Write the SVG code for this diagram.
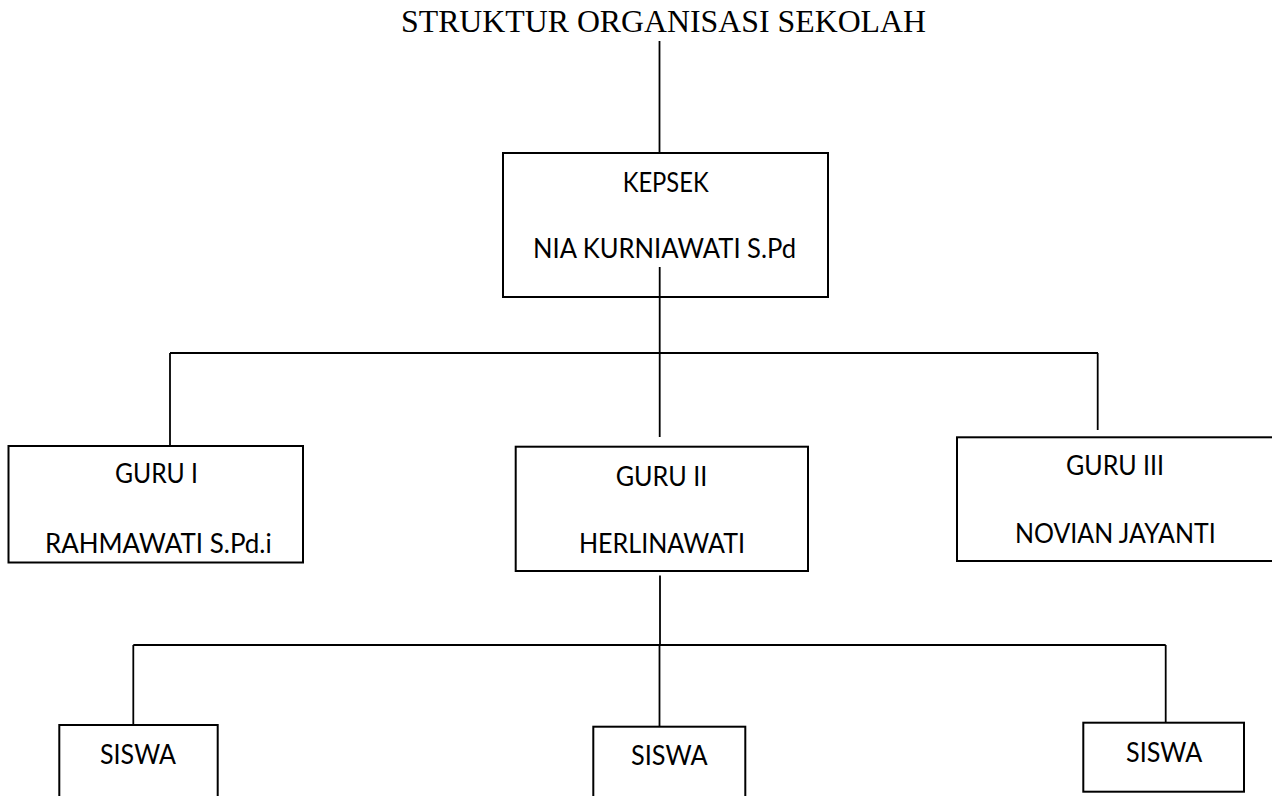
<svg xmlns="http://www.w3.org/2000/svg" width="1272" height="796" viewBox="0 0 1272 796">
<style>
.box{fill:#fff;stroke:#000;stroke-width:2}
.ln{stroke:#000;stroke-width:1.8;fill:none}
.t{font-family:Lato,"Open Sans","Liberation Sans",sans-serif;font-size:26px;fill:#000;text-anchor:middle}
.title{font-family:"Liberation Serif","Times New Roman",serif;font-size:32px;fill:#000}
</style>
<rect width="1272" height="796" fill="#fff"/>
<text class="title" x="401" y="32" textLength="525" lengthAdjust="spacingAndGlyphs">STRUKTUR ORGANISASI SEKOLAH</text>
<g id="connectors">
<line class="ln" x1="659.5" y1="41" x2="659.5" y2="153"/>
<line class="ln" x1="659.7" y1="267" x2="659.7" y2="437"/>
<line class="ln" x1="170" y1="353" x2="1098" y2="353"/>
<line class="ln" x1="170" y1="353" x2="170" y2="446"/>
<line class="ln" x1="1097.7" y1="353" x2="1097.7" y2="430"/>
<line class="ln" x1="660" y1="575.5" x2="660" y2="645"/>
<line class="ln" x1="133.3" y1="645" x2="1165.7" y2="645"/>
<line class="ln" x1="133.3" y1="645" x2="133.3" y2="725"/>
<line class="ln" x1="659.5" y1="645" x2="659.5" y2="726.7"/>
<line class="ln" x1="1165.7" y1="645" x2="1165.7" y2="722.7"/>
</g>
<g id="kepsek">
<rect class="box" x="503" y="153" width="325" height="144"/>
<line class="ln" x1="659.7" y1="267" x2="659.7" y2="297"/>
<text class="t" x="665.7" y="191.7" textLength="86" lengthAdjust="spacingAndGlyphs">KEPSEK</text>
<text class="t" x="664.5" y="258.3" textLength="263" lengthAdjust="spacingAndGlyphs">NIA KURNIAWATI S.Pd</text>
</g>
<g id="guru1">
<rect class="box" x="8.5" y="446" width="294.5" height="116.5"/>
<text class="t" x="156.5" y="483.3" textLength="83" lengthAdjust="spacingAndGlyphs">GURU I</text>
<text class="t" x="158.3" y="553.3" textLength="226.7" lengthAdjust="spacingAndGlyphs">RAHMAWATI S.Pd.i</text>
</g>
<g id="guru2">
<rect class="box" x="515.7" y="446.7" width="292.3" height="124.3"/>
<text class="t" x="661.5" y="485.7" textLength="91.6" lengthAdjust="spacingAndGlyphs">GURU II</text>
<text class="t" x="662" y="553.3" textLength="166" lengthAdjust="spacingAndGlyphs">HERLINAWATI</text>
</g>
<g id="guru3">
<rect class="box" x="957" y="437.3" width="330" height="123.7"/>
<text class="t" x="1115" y="475" textLength="98" lengthAdjust="spacingAndGlyphs">GURU III</text>
<text class="t" x="1115.3" y="543.3" textLength="200.7" lengthAdjust="spacingAndGlyphs">NOVIAN JAYANTI</text>
</g>
<g id="siswa1">
<rect class="box" x="59.3" y="725" width="158.4" height="100"/>
<text class="t" x="138" y="764" textLength="76" lengthAdjust="spacingAndGlyphs">SISWA</text>
</g>
<g id="siswa2">
<rect class="box" x="593.3" y="726.7" width="152" height="100"/>
<text class="t" x="669.3" y="765" textLength="76.7" lengthAdjust="spacingAndGlyphs">SISWA</text>
</g>
<g id="siswa3">
<rect class="box" x="1083.3" y="722.7" width="160.7" height="69"/>
<text class="t" x="1164.2" y="761.7" textLength="76.3" lengthAdjust="spacingAndGlyphs">SISWA</text>
</g>
</svg>
